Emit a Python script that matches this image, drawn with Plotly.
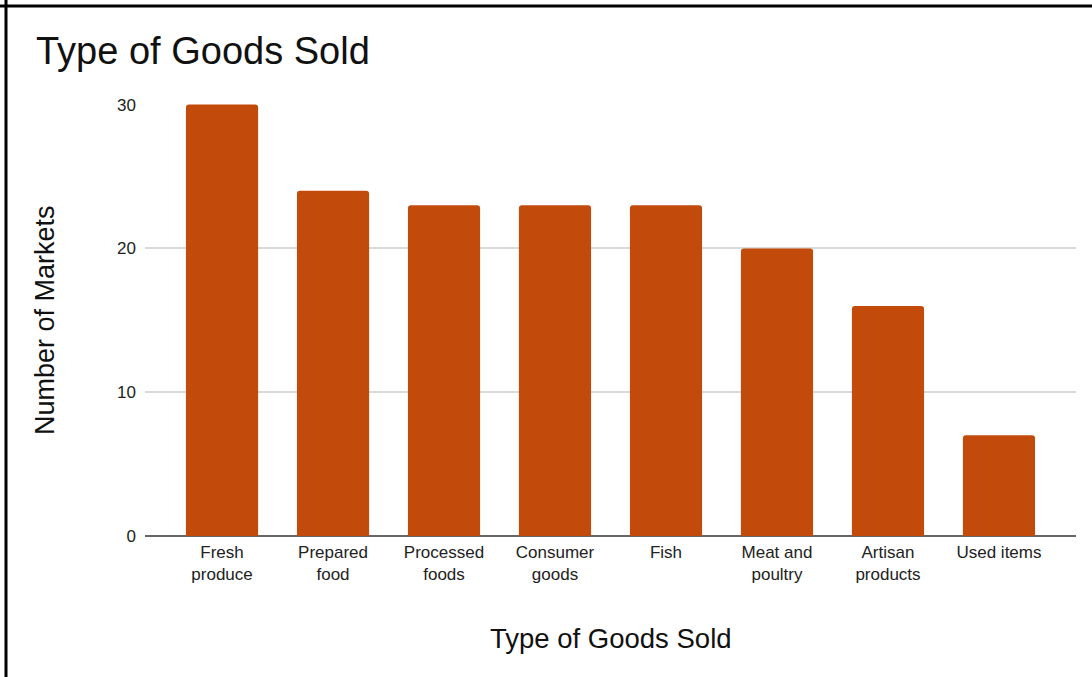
import plotly.graph_objects as go

# Market survey: how many markets sell each type of goods
categories = ["Fresh produce", "Prepared food", "Processed foods", "Consumer goods",
              "Fish", "Meat and poultry", "Artisan products", "Used items"]
tick_labels = ["Fresh<br>produce", "Prepared<br>food", "Processed<br>foods", "Consumer<br>goods",
               "Fish", "Meat and<br>poultry", "Artisan<br>products", "Used items"]
markets = [30, 24, 23, 23, 23, 20, 16, 7]
y_ticks = [0, 10, 20, 30]

W, H = 1092, 677
L, R, T, B = 145, 16, 104, 141
PW, PH = W - L - R, H - T - B

FONT = "Liberation Sans, Arial, Helvetica, sans-serif"
BAR = "#c24a0b"


def px_x(p):
    return (p - L) / PW


def px_y(p):
    return (H - B - p) / PH


fig = go.Figure(
    go.Bar(
        x=categories,
        y=markets,
        width=0.65,
        marker=dict(color=BAR, line=dict(width=0), cornerradius=3),
        hoverinfo="x+y",
    )
)

fig.update_layout(
    width=W,
    height=H,
    margin=dict(l=L, r=R, t=T, b=B, pad=0),
    paper_bgcolor="white",
    plot_bgcolor="white",
    showlegend=False,
    font=dict(family=FONT, color="#222222"),
    bargap=0.35,
)

fig.update_xaxes(
    type="category",
    range=[-0.694, 7.694],
    tickmode="array",
    tickvals=categories,
    ticktext=tick_labels,
    tickfont=dict(size=17, color="#222222"),
    ticks="",
    ticklabelstandoff=4,
    showgrid=False,
    showline=False,
    zeroline=False,
)

fig.update_yaxes(
    range=[0, 30.04],
    tickmode="array",
    tickvals=y_ticks,
    ticktext=[str(v) for v in y_ticks],
    tickfont=dict(size=17, color="#222222"),
    ticks="",
    ticklabelstandoff=8,
    showgrid=True,
    gridcolor="#d9d9d9",
    gridwidth=1.5,
    zeroline=True,
    zerolinecolor="#666666",
    zerolinewidth=2,
    showline=False,
)

# Chart title and axis titles
fig.add_annotation(
    text="Type of Goods Sold", xref="paper", yref="paper",
    x=px_x(34), y=px_y(51), xanchor="left", yanchor="middle",
    showarrow=False, font=dict(size=38, color="#111111", family=FONT),
)
fig.add_annotation(
    text="Type of Goods Sold", xref="paper", yref="paper",
    x=0.5, y=px_y(638), xanchor="center", yanchor="middle",
    showarrow=False, font=dict(size=27.5, color="#111111", family=FONT),
)
fig.add_annotation(
    text="Number of Markets", xref="paper", yref="paper",
    x=px_x(45), y=0.5, xanchor="center", yanchor="middle", textangle=-90,
    showarrow=False, font=dict(size=27, color="#111111", family=FONT),
)

# Frame lines along the top and left edges
fig.add_shape(type="line", xref="paper", yref="paper",
              x0=px_x(0), x1=px_x(W), y0=px_y(6), y1=px_y(6),
              line=dict(color="black", width=3))
fig.add_shape(type="line", xref="paper", yref="paper",
              x0=px_x(6), x1=px_x(6), y0=px_y(0), y1=px_y(H),
              line=dict(color="black", width=3))

fig.write_html("out.html")
